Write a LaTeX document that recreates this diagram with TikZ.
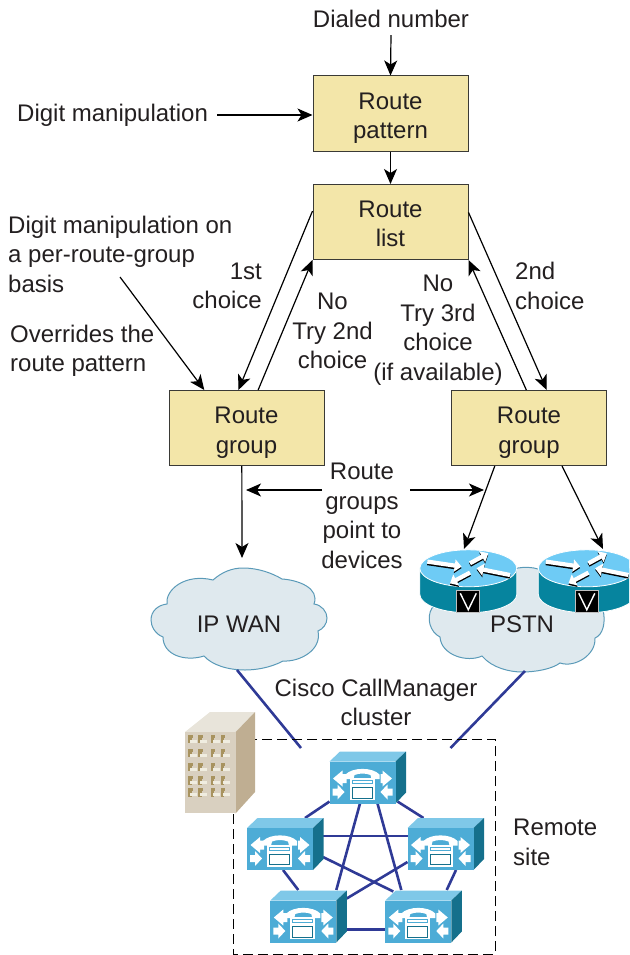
\documentclass[tikz,border=0pt]{standalone}
\usepackage{fontspec}
\setmainfont{Liberation Sans}
\usetikzlibrary{arrows.meta,backgrounds}
\definecolor{boxfill}{HTML}{F3E6A9}
\definecolor{boxline}{HTML}{3A3A36}
\definecolor{txt}{HTML}{231F20}
\definecolor{cloudfill}{HTML}{DFE9EE}
\definecolor{cloudline}{HTML}{5A9AB8}
\definecolor{lnkblue}{HTML}{2F3A96}
\definecolor{rtop}{HTML}{6ECBF5}
\definecolor{rside}{HTML}{06849E}
\definecolor{pfront}{HTML}{4DACD6}
\definecolor{ptop}{HTML}{7FC8E8}
\definecolor{pside}{HTML}{15708C}
\definecolor{bfront}{HTML}{D9D0C0}
\definecolor{btop}{HTML}{E8E4DA}
\definecolor{bside}{HTML}{BFAE92}
\definecolor{bwin}{HTML}{A8935F}
\definecolor{blight}{HTML}{F0EDE0}
\tikzset{
  routebox/.style={draw=boxline,fill=boxfill,line width=1pt,minimum width=155pt,minimum height=75pt,inner sep=0pt,align=center,text=txt,font=\fontsize{24}{29.5}\selectfont},
  lbl/.style={inner sep=0pt,text=txt,font=\fontsize{24}{29.5}\selectfont},
  arw/.style={line width=1.2pt,black,-{Stealth[length=15pt,width=13pt,inset=4pt]}},
  lnk/.style={line width=2.6pt,lnkblue},
  cloudshape/.style={fill=cloudfill,draw=cloudline,line width=1pt},
  phonebox/.style={minimum width=66pt,minimum height=42pt,inner sep=0pt},
  rarrow/.style={line width=4.2pt,-{Triangle[length=7pt,width=12pt]}}
}
\newcommand{\routerart}[2]{%
  \begin{scope}[shift={(#1,#2)}]
    \fill[rside,draw=white,line width=.8pt] (-48.5,0) -- (-48.5,26) arc[start angle=180,end angle=360,x radius=48.5,y radius=-18.5] -- (48.5,0) -- cycle;
    \fill[rtop,draw=white,line width=.8pt] (0,0) ellipse[x radius=48.5,y radius=18.5];
    \begin{scope}[shift={(0,1.5)}]
      \draw[rarrow,black] (-41,-6.7) -- (-6.7,-1.7);
      \draw[rarrow,black] (1.7,-5) -- (20,-15);
      \draw[rarrow,black] (41.7,6.7) -- (8.3,0);
      \draw[rarrow,black] (1.7,4.3) -- (-18.3,15);
    \end{scope}
    \draw[rarrow,white] (-41,-6.7) -- (-6.7,-1.7);
    \draw[rarrow,white] (1.7,-5) -- (20,-15);
    \draw[rarrow,white] (41.7,6.7) -- (8.3,0);
    \draw[rarrow,white] (1.7,4.3) -- (-18.3,15);
    \fill[black,draw=lightgray,line width=.8pt] (-11.5,21.7) rectangle (11.5,44.4);
    \draw[white,line width=1.4pt] (-8,25) -- (0,41.5) -- (8,25);
  \end{scope}}
\newcommand{\phoneart}[1]{%
  \begin{scope}[shift={(#1.center)}]
    \fill[ptop] (-33,-21) -- (-22.5,-31) -- (43.5,-31) -- (33,-21) -- cycle;
    \fill[pside] (33,-21) -- (43.5,-31) -- (43.5,10) -- (33,21) -- cycle;
    \fill[pfront] (-33,-21) rectangle (33,21);
    \fill[white] (-17,-3.5) -- (-17,-8) .. controls (-10,-15.5) and (10,-15.5) .. (17,-8) -- (17,-3.5) -- (9,-3.5) -- (8,-7.5) .. controls (3,-9.5) and (-3,-9.5) .. (-8,-7.5) -- (-9,-3.5) -- cycle;
    \fill[white] (-13,-4.5) rectangle (12,17.5);
    \fill[pfront] (-11,-2.5) rectangle (10,1.5);
    \fill[white] (-10,-1.5) rectangle (9,.5);
    \draw[pside,line width=.9pt] (-10.5,5) rectangle (9.5,15.5);
    \fill[white] (-29.5,-4) -- (-20,-12) -- (-20,-8.5) -- (-16,-8.5) -- (-16,.5) -- (-20,.5) -- (-20,4) -- cycle;
    \fill[white] (29.5,-4) -- (20,-12) -- (20,-8.5) -- (18,-8.5) -- (18,.5) -- (20,.5) -- (20,4) -- cycle;
    \fill[white] (-18,9.5) -- (-25,2) -- (-25,6) -- (-30,6) -- (-30,13) -- (-25,13) -- (-25,17) -- cycle;
    \fill[white] (18,9.5) -- (25,2) -- (25,6) -- (30,6) -- (30,13) -- (25,13) -- (25,17) -- cycle;
  \end{scope}}
\newcommand{\windowart}[2]{%
  \fill[bwin] (#1,#2) rectangle ++(3.2,8.5);
  \fill[bwin] (#1,#2) rectangle ++(4.5,3);
  \fill[blight] (#1+1.8,#2+5) rectangle ++(7.2,3.2);}
\begin{document}
\begin{tikzpicture}[x=1pt,y=-1pt]
\useasboundingbox (0,0) rectangle (629,955);
% boxes
\node[routebox] (pat) at (390.5,113.5) {\rule{0pt}{26pt}Route\\pattern};
\node[routebox] (lst) at (390.5,222) {\rule{0pt}{20pt}Route\\list};
\node[routebox] (g1) at (246.5,428) {\rule{0pt}{26pt}Route\\group};
\node[routebox] (g2) at (529,428) {\rule{0pt}{26pt}Route\\group};
% labels
\node[lbl] (dn) at (391,19) {Dialed number};
\node[lbl,anchor=west] (dm) at (17,115) {Digit manipulation};
\node[lbl,anchor=west,align=left] (dp) at (8,254) {Digit manipulation on\\a per-route-group\\basis};
\node[lbl,anchor=west,align=left] (ov) at (10,351) {Overrides the\\route pattern};
\node[lbl,anchor=east,align=right] (c1) at (262,286) {1st\\choice};
\node[lbl,align=center] (n2) at (332.5,331) {No\\Try 2nd\\choice};
\node[lbl,align=center] (n3) at (438,330) {No\\Try 3rd\\choice\\(if available)};
\node[lbl,anchor=west,align=left] (c2) at (515,286) {2nd\\choice};
\node[lbl,align=center] (rg) at (362,516) {Route\\groups\\point to\\devices};
\node[lbl,align=center] (cc) at (376,702.5) {Cisco CallManager\\cluster};
\node[lbl,anchor=west,align=left] (rs) at (513,842.5) {Remote\\site};
% clouds
\path[cloudshape] (213,580) .. controls (222,572) and (232,568) .. (243,568)
 .. controls (258,568) and (272,573) .. (282,579)
 .. controls (298,580) and (320,588) .. (314,604)
 .. controls (322,605) and (327,612) .. (327,618)
 .. controls (327,624) and (323,629) .. (318,631)
 .. controls (322,650) and (300,662) .. (283,661)
 .. controls (270,668) and (255,670) .. (245,670)
 .. controls (228,670) and (212,665) .. (204,656)
 .. controls (185,662) and (163,655) .. (163,637)
 .. controls (155,634) and (151,626) .. (151,620)
 .. controls (151,611) and (158,605) .. (167,604)
 .. controls (165,590) and (185,573) .. (213,580) -- cycle;
\node[lbl] (ipw) at (239,624) {IP WAN};
\path[cloudshape] (432,608) .. controls (426,618) and (430,632) .. (440,637)
 .. controls (441,655) and (467,663) .. (482,656)
 .. controls (492,668) and (510,672) .. (522,672)
 .. controls (536,672) and (552,669) .. (560,663)
 .. controls (575,668) and (596,655) .. (595,638)
 .. controls (603,635) and (606,622) .. (603,610)
 -- (538,569) .. controls (532,567) and (524,567) .. (518,568) -- cycle;
\node[lbl] (pstn) at (522,624) {PSTN};
% wan links
\coordinate (ipwb) at (237,670);
\coordinate (pstb) at (525,671);
\coordinate (cl) at (301,748);
\coordinate (cr) at (450.5,748);
\draw[lnk] (ipwb) -- (cl);
\draw[lnk] (pstb) -- (cr);
% routers
\begin{scope}
\clip (0,0) rectangle (629,955);
\routerart{468.3}{568.3}
\routerart{586.8}{568.3}
\end{scope}
% arrows
\coordinate (h1) at (322,490);
\coordinate (h2) at (246,490);
\coordinate (h3) at (410,490);
\coordinate (h4) at (484,490);
\coordinate (e1) at (242,558);
\coordinate (e2) at (464,549);
\coordinate (e3) at (603,549);
\draw[arw] ([yshift=-7pt]dn.south) -- (pat.north);
\draw[arw] ([xshift=9pt]dm.east) -- (pat.west |- dm.east);
\draw[arw] (pat.south) -- (lst.north);
\draw[arw] (lst.172.6) -- (g1.102.6);
\draw[arw] (g1.73.2) -- (lst.south west);
\draw[arw] (lst.7.4) -- (g2.65.9);
\draw[arw] (g2.94.5) -- (lst.south east);
\draw[arw] (120,277) -- (g1.138.8);
\draw[arw] (g1.263.2) -- (e1);
\draw[arw] (h1) -- (h2);
\draw[arw] (h3) -- (h4);
\draw[arw] (g2.228.2) -- (e2);
\draw[arw] (g2.311) -- (e3);
% site frame
\draw[black,line width=1pt,dash pattern=on 10pt off 5pt] (233,739) rectangle (495,954);
% building
\fill[btop] (185,732) -- (210,712) -- (255,712) -- (235.7,732) -- cycle;
\fill[bside] (235.7,732) -- (255,712) -- (255,792) -- (235.7,813.3) -- cycle;
\fill[bfront] (185,732) rectangle (235.7,813.3);
\foreach \yy in {734.5,748.5,762.5,776,788}{
  \foreach \xx in {188.3,198.3,210.7,220.7}{
    \windowart{\xx}{\yy}
  }
}
% cluster
\node[phonebox] (pa) at (362.5,782.5) {};
\node[phonebox] (pb) at (280,849) {};
\node[phonebox] (pc) at (440.5,849) {};
\node[phonebox] (pd) at (303.3,921.5) {};
\node[phonebox] (pe) at (418.3,921.5) {};
\begin{scope}[on background layer]
\draw[lnk] ([shift={(-33,19)}]pa.center) -- ([shift={(25,-31)}]pb.center);
\draw[lnk] ([shift={(35,19)}]pa.center) -- ([shift={(-17,-31)}]pc.center);
\draw[lnk] ([shift={(-2.5,21)}]pa.center) -- ([shift={(33,-31.5)}]pd.center);
\draw[lnk] ([shift={(15,21)}]pa.center) -- ([shift={(-17,-31.5)}]pe.center);
\draw[lnk] ([shift={(43,-13)}]pb.center) -- ([shift={(-33,-13)}]pc.center);
\draw[lnk] ([shift={(3,21)}]pb.center) -- ([shift={(-5,-31.5)}]pd.center);
\draw[lnk] ([shift={(15.5,21)}]pc.center) -- ([shift={(28.4,-31.5)}]pe.center);
\draw[lnk] ([shift={(43,8)}]pb.center) -- ([shift={(-25,-30)}]pe.center);
\draw[lnk] ([shift={(-33,13)}]pc.center) -- ([shift={(43.4,-23)}]pd.center);
\draw[lnk] ([shift={(43.4,8)}]pd.center) -- ([shift={(-33,8)}]pe.center);
\end{scope}
\phoneart{pa}
\phoneart{pb}
\phoneart{pc}
\phoneart{pd}
\phoneart{pe}
\end{tikzpicture}
\end{document}
